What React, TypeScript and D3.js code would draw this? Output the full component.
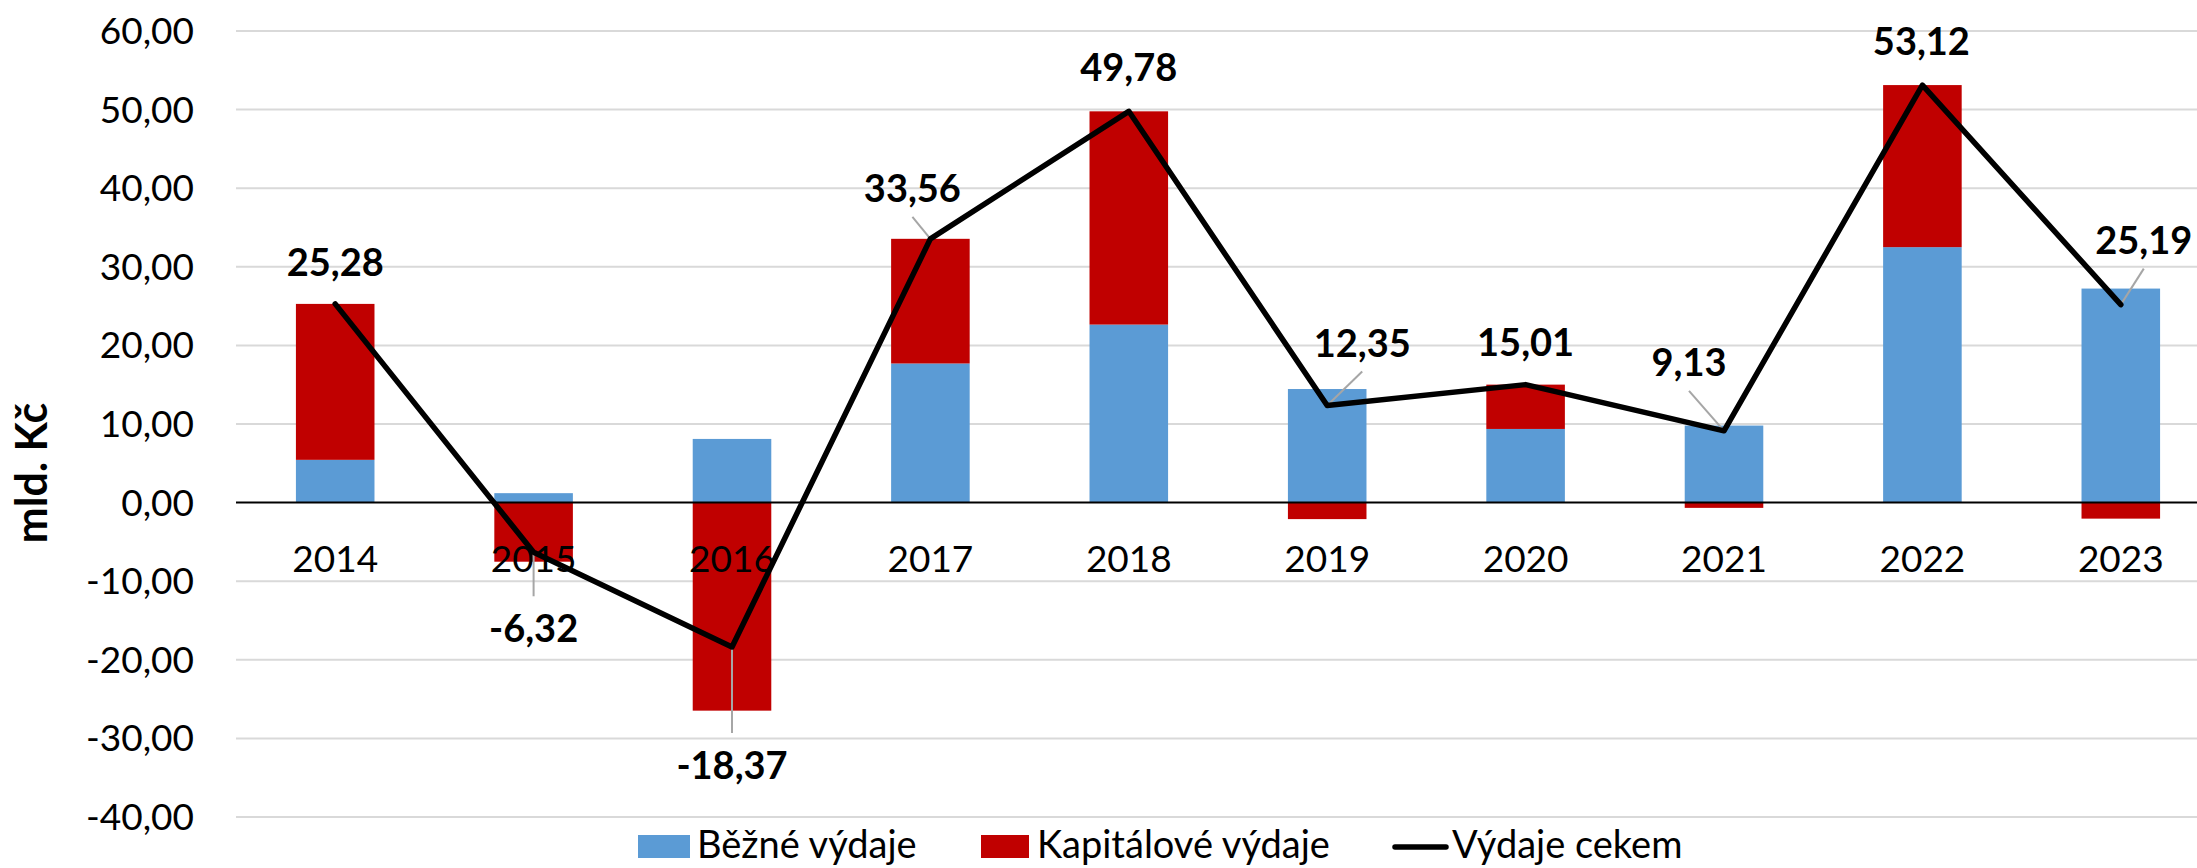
import React, { useEffect, useRef } from 'react';
import * as d3 from 'd3';

const years = ['2014', '2015', '2016', '2017', '2018', '2019', '2020', '2021', '2022', '2023'];
const bezneVydaje = [5.44, 1.2, 8.1, 17.7, 22.65, 14.45, 9.37, 9.8, 32.5, 27.23];
const kapitaloveVydaje = [19.84, -7.52, -26.47, 15.86, 27.13, -2.1, 5.64, -0.67, 20.62, -2.04];
const vydajeCelkem = [25.28, -6.32, -18.37, 33.56, 49.78, 12.35, 15.01, 9.13, 53.12, 25.19];
const yTicks = [-40, -30, -20, -10, 0, 10, 20, 30, 40, 50, 60];
const seriesNames = ['Běžné výdaje', 'Kapitálové výdaje', 'Výdaje cekem'];

// where each data label sits relative to its line point (dx, baseline dy)
const labelOffsets = [[0, -28], [0, 90], [0, 132], [-18, -37], [0, -30], [35, -49], [0, -29], [-35, -55], [-1, -30], [23, -51]];

const W = 2197;
const H = 868;
const FONT = 'Lato, Calibri, Carlito, sans-serif';
const BLUE = '#5B9BD5';
const RED = '#C00000';

const csLocale = d3.formatLocale({ decimal: ',', thousands: ' ', grouping: [3], currency: ['', ' Kč'], minus: '-' });
const fmt = csLocale.format('.2f');

const App = () => {
    const ref = useRef(null);

    useEffect(() => {
        document.body.style.margin = '0';
        const svg = d3.select(ref.current);
        svg.selectAll('*').remove();

        const left = 236;
        const step = 198.4;

        const x = d3.scaleBand()
            .domain(years)
            .range([left, left + step * years.length])
            .paddingInner(0.604)
            .paddingOuter(0.302);

        const y = d3.scaleLinear().domain([-40, 60]).range([817, 31]);

        const rows = years.map((yr, i) => ({ year: yr, bezne: bezneVydaje[i], kapital: kapitaloveVydaje[i] }));
        const stack = d3.stack().keys(['bezne', 'kapital']).offset(d3.stackOffsetDiverging);
        const layers = stack(rows);

        // gridlines
        svg.append('g')
            .selectAll('line')
            .data(yTicks.filter(t => t !== 0))
            .join('line')
            .attr('x1', left)
            .attr('x2', W)
            .attr('y1', d => y(d))
            .attr('y2', d => y(d))
            .attr('stroke', '#D9D9D9')
            .attr('stroke-width', 2);

        // y tick labels
        svg.append('g')
            .selectAll('text')
            .data(yTicks)
            .join('text')
            .attr('x', 194)
            .attr('y', d => y(d) + 13)
            .attr('text-anchor', 'end')
            .attr('font-family', FONT)
            .attr('font-size', 37)
            .attr('fill', '#000')
            .text(d => fmt(d));

        // axis title
        svg.append('text')
            .attr('transform', 'translate(47,473) rotate(-90)')
            .attr('text-anchor', 'middle')
            .attr('font-family', FONT)
            .attr('font-size', 43)
            .attr('font-weight', 'bold')
            .text('mld. Kč');

        // stacked bars
        const colors = [BLUE, RED];
        svg.append('g')
            .selectAll('g')
            .data(layers)
            .join('g')
            .attr('fill', (d, i) => colors[i])
            .selectAll('rect')
            .data(d => d)
            .join('rect')
            .attr('x', d => x(d.data.year))
            .attr('width', x.bandwidth())
            .attr('y', d => y(Math.max(d[0], d[1])))
            .attr('height', d => Math.abs(y(d[0]) - y(d[1])));

        // zero axis line
        svg.append('line')
            .attr('x1', left)
            .attr('x2', W)
            .attr('y1', y(0))
            .attr('y2', y(0))
            .attr('stroke', '#000')
            .attr('stroke-width', 2);

        // year labels
        svg.append('g')
            .selectAll('text')
            .data(years)
            .join('text')
            .attr('x', d => x(d) + x.bandwidth() / 2)
            .attr('y', y(0) + 69)
            .attr('text-anchor', 'middle')
            .attr('font-family', FONT)
            .attr('font-size', 37)
            .text(d => d);

        const cx = i => x(years[i]) + x.bandwidth() / 2;

        // leader lines
        svg.append('g')
            .selectAll('line')
            .data(vydajeCelkem.map((v, i) => i).filter(i => Math.abs(labelOffsets[i][0]) > 5 || labelOffsets[i][1] > 0))
            .join('line')
            .attr('x1', i => cx(i))
            .attr('y1', i => y(vydajeCelkem[i]))
            .attr('x2', i => cx(i) + labelOffsets[i][0])
            .attr('y2', i => y(vydajeCelkem[i]) + labelOffsets[i][1] + (labelOffsets[i][1] > 0 ? -46 : 15))
            .attr('stroke', '#A6A6A6')
            .attr('stroke-width', 2);

        // total line
        const line = d3.line()
            .x((d, i) => cx(i))
            .y(d => y(d));

        svg.append('path')
            .datum(vydajeCelkem)
            .attr('fill', 'none')
            .attr('stroke', '#000')
            .attr('stroke-width', 5.5)
            .attr('stroke-linejoin', 'round')
            .attr('stroke-linecap', 'round')
            .attr('d', line);

        // data labels
        svg.append('g')
            .selectAll('text')
            .data(vydajeCelkem)
            .join('text')
            .attr('x', (d, i) => cx(i) + labelOffsets[i][0])
            .attr('y', (d, i) => y(d) + labelOffsets[i][1])
            .attr('text-anchor', 'middle')
            .attr('font-family', FONT)
            .attr('font-size', 38)
            .attr('font-weight', 'bold')
            .text(d => fmt(d));

        // legend
        const lg = svg.append('g');
        lg.append('rect').attr('x', 638).attr('y', 835).attr('width', 52).attr('height', 23).attr('fill', BLUE);
        lg.append('rect').attr('x', 981).attr('y', 835).attr('width', 48).attr('height', 23).attr('fill', RED);
        lg.append('line').attr('x1', 1395).attr('x2', 1446).attr('y1', 847).attr('y2', 847)
            .attr('stroke', '#000').attr('stroke-width', 5.5).attr('stroke-linecap', 'round');
        const legendTextX = [697, 1037, 1452];
        lg.selectAll('text')
            .data(seriesNames)
            .join('text')
            .attr('x', (d, i) => legendTextX[i])
            .attr('y', 858)
            .attr('font-family', FONT)
            .attr('font-size', 38)
            .text(d => d);
    }, []);

    return (
        <svg
            width={W}
            height={H}
            ref={ref}
            style={{ display: 'block', background: '#fff' }}
        />
    );
};

export default App;
